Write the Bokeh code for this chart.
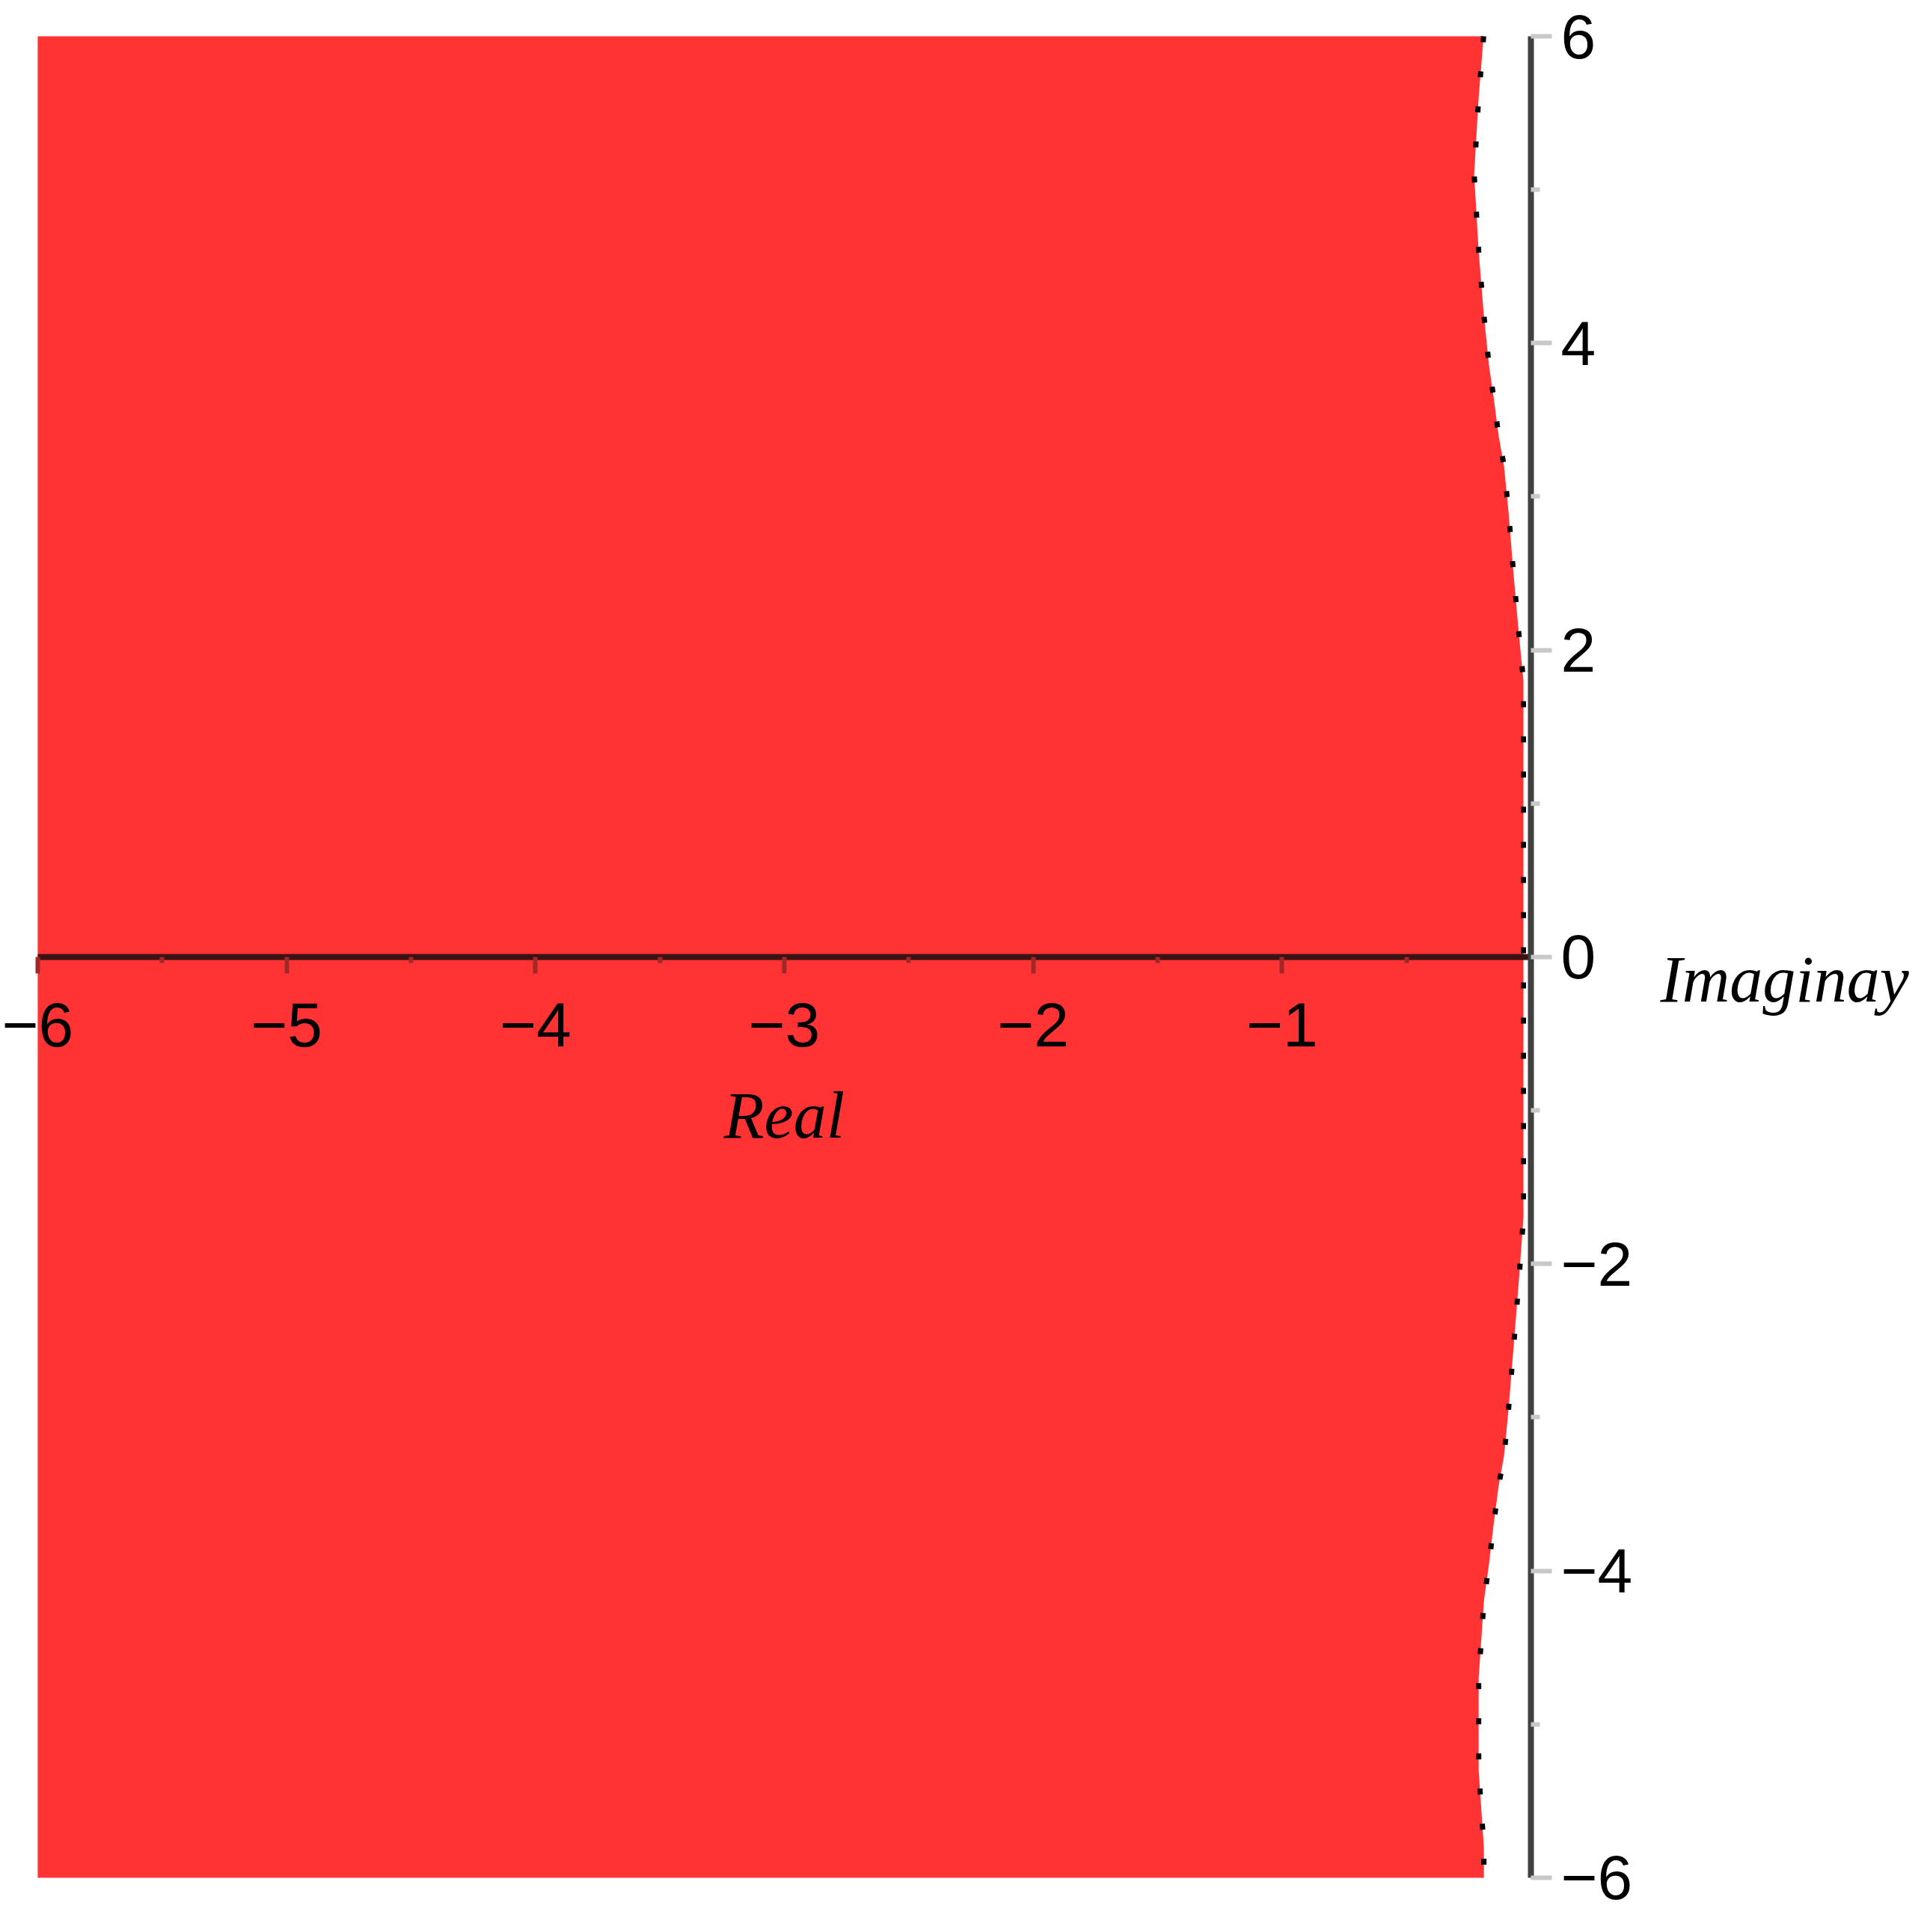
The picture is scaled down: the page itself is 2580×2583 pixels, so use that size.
from bokeh.plotting import figure
from bokeh.models import Range1d, LinearAxis, FixedTicker, Label
from bokeh.embed import file_html
from bokeh.resources import INLINE

# ---- data ----
# boundary of the shaded (red) region: real part as a function of imaginary part
bnd_y = [6.0, 5.6, 5.1, 4.6, 4.2, 3.85, 3.65, 3.4, 3.2, 2.9, 2.5, 2.1, 1.8,
         0.0, -1.7, -2.1, -2.55, -2.95, -3.25, -3.45, -3.7, -3.95, -4.2,
         -4.7, -5.3, -5.8, -6.0]
bnd_x = [-0.19, -0.21, -0.228, -0.21, -0.19, -0.168, -0.15, -0.13, -0.108,
         -0.09, -0.07, -0.048, -0.03, -0.03, -0.03, -0.048, -0.07, -0.09,
         -0.108, -0.13, -0.15, -0.168, -0.189, -0.21, -0.21, -0.189, -0.189]
x_min = -6.0          # left edge of the shaded region
x_axis_end = 0.0      # the real axis stops at the imaginary axis
y_min, y_max = -6.0, 6.0

x_ticks = [-6, -5, -4, -3, -2, -1]
x_tick_labels = ["\u22126", "\u22125", "\u22124", "\u22123", "\u22122", "\u22121"]
x_minor = [-5.5, -4.5, -3.5, -2.5, -1.5, -0.5]
y_ticks = [-6, -4, -2, 0, 2, 4, 6]
y_tick_labels = ["\u22126", "\u22124", "\u22122", "0", "2", "4", "6"]
y_minor = [-5, -3, -1, 1, 3, 5]

x_label = "Real"
y_label = "Imaginay"

# ---- figure: the frame covers the whole canvas, axes are placed at the origin ----
p = figure(width=2564, height=2567,
           x_range=Range1d(-6.150, 1.557), y_range=Range1d(-6.278, 6.234),
           output_backend="svg", toolbar_location=None,
           x_axis_location=None, y_axis_location=None,
           min_border_left=0, min_border_right=0,
           min_border_top=0, min_border_bottom=0)
p.outline_line_color = None
p.grid.visible = False
p.background_fill_color = "white"
p.border_fill_color = "white"

poly_x = [x_min] + bnd_x + [x_min]
poly_y = [bnd_y[0]] + bnd_y + [bnd_y[-1]]
p.patch(poly_x, poly_y, fill_color="#FF3333", line_color=None)
p.line(bnd_x, bnd_y, line_color="black", line_width=7, line_dash="8 39")

LABEL_FONT = "Liberation Sans"
LABEL_SIZE = "84px"

# real axis through the origin
xaxis = LinearAxis(fixed_location=0, bounds=(x_min, x_axis_end),
                   ticker=FixedTicker(ticks=x_ticks, minor_ticks=x_minor))
xaxis.major_label_overrides = dict(zip(x_ticks, x_tick_labels))
xaxis.axis_line_color = "#3a1414"
xaxis.axis_line_width = 8
xaxis.major_tick_line_color = "#a02828"
xaxis.major_tick_line_width = 6
xaxis.major_tick_in = 0
xaxis.major_tick_out = 22
xaxis.minor_tick_line_color = "#a02828"
xaxis.minor_tick_line_width = 6
xaxis.minor_tick_in = 0
xaxis.minor_tick_out = 8
xaxis.major_label_text_font = LABEL_FONT
xaxis.major_label_text_font_size = LABEL_SIZE
xaxis.major_label_text_color = "black"
xaxis.major_label_standoff = 40
xaxis.axis_label = x_label
xaxis.axis_label_text_font = "Liberation Serif"
xaxis.axis_label_text_font_style = "italic"
xaxis.axis_label_text_font_size = "88px"
xaxis.axis_label_text_color = "black"
xaxis.axis_label_standoff = 40
p.add_layout(xaxis, "below")

# imaginary axis at x = 0
yaxis = LinearAxis(fixed_location=0, bounds=(y_min, y_max),
                   ticker=FixedTicker(ticks=y_ticks, minor_ticks=y_minor))
yaxis.major_label_overrides = dict(zip(y_ticks, y_tick_labels))
yaxis.axis_line_color = "#404040"
yaxis.axis_line_width = 8
yaxis.major_tick_line_color = "#c8c8c8"
yaxis.major_tick_line_width = 6
yaxis.major_tick_in = 0
yaxis.major_tick_out = 28
yaxis.minor_tick_line_color = "#c8c8c8"
yaxis.minor_tick_line_width = 6
yaxis.minor_tick_in = 0
yaxis.minor_tick_out = 12
yaxis.major_label_text_font = LABEL_FONT
yaxis.major_label_text_font_size = LABEL_SIZE
yaxis.major_label_text_color = "black"
yaxis.major_label_standoff = 12
p.add_layout(yaxis, "right")

p.add_layout(Label(x=0.52, y=-0.145, text=y_label,
                   text_font="Liberation Serif", text_font_style="italic",
                   text_font_size="88px", text_color="black",
                   text_baseline="alphabetic", text_align="left"))

open("out.html", "w").write(file_html(p, INLINE))
